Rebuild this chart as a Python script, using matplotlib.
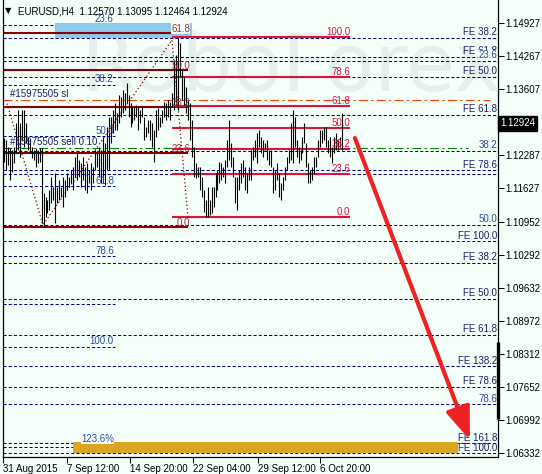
import matplotlib
matplotlib.use("Agg")
import matplotlib.pyplot as plt
from matplotlib.patches import Rectangle
from matplotlib.transforms import blended_transform_factory

plt.rcParams['font.family'] = ['Liberation Sans', 'DejaVu Sans']

# ---------------- data ----------------
symbol_title = "EURUSD,H4  1.12570 1.13095 1.12464 1.12924"
last_price = 1.12924

highs = [1.1263, 1.1259, 1.1245, 1.1243, 1.1239, 1.1245, 1.1293, 1.1319, 1.1293, 1.1319,
         1.1319, 1.1293, 1.1265, 1.1259, 1.1245, 1.1239, 1.1243, 1.1239, 1.1243, 1.1243,
         1.1153, 1.1145, 1.1139, 1.1159, 1.1185, 1.1165,
         1.1193, 1.1165, 1.1179, 1.1165, 1.1185, 1.1179, 1.1193, 1.1185, 1.1199, 1.1205,
         1.1225, 1.1233, 1.1219, 1.1213, 1.1225, 1.1205, 1.1213, 1.1199, 1.1213, 1.1205,
         1.1239, 1.1233, 1.1245, 1.1239, 1.1265, 1.1253, 1.1285, 1.1305, 1.1305, 1.1319,
         1.1333, 1.1313,
         1.1349, 1.1345, 1.1359, 1.1353, 1.1373, 1.1349, 1.1333, 1.1325, 1.1325, 1.1329,
         1.1325, 1.1319, 1.1325, 1.1305, 1.1285, 1.1299, 1.1299, 1.1293, 1.1279, 1.1319,
         1.1323, 1.1305, 1.1319, 1.1335, 1.1333, 1.1339, 1.1335, 1.1353,
         1.1419, 1.1429, 1.1463, 1.1453, 1.1399, 1.1385, 1.1365,
         1.1339, 1.1333, 1.1299, 1.1245, 1.1213, 1.1205, 1.1205, 1.1185, 1.1159, 1.1139,
         1.1165, 1.1139, 1.1165, 1.1165, 1.1193, 1.1199, 1.1215, 1.1213, 1.1205, 1.1219,
         1.1259, 1.1299, 1.1253, 1.1225, 1.1185, 1.1185, 1.1199, 1.1213, 1.1219, 1.1205,
         1.1193, 1.1205, 1.1239, 1.1245, 1.1259, 1.1273, 1.1279, 1.1265, 1.1259, 1.1253,
         1.1259, 1.1239, 1.1239, 1.1205, 1.1199, 1.1213, 1.1193, 1.1173, 1.1185, 1.1205,
         1.1225, 1.1239, 1.1293, 1.1319, 1.1305, 1.1259, 1.1245, 1.1239, 1.1265, 1.1293,
         1.1253, 1.1213, 1.1199, 1.1205, 1.1225, 1.1225, 1.1259, 1.1279, 1.1279, 1.1285,
         1.1285, 1.1259, 1.1265, 1.1245, 1.1265, 1.1273, 1.1259, 1.1265, 1.1313]

lows = [1.1215, 1.1199, 1.1209, 1.1179, 1.1195, 1.1213, 1.1233, 1.1239, 1.1225, 1.1259,
        1.1245, 1.1253, 1.1239, 1.1233, 1.1223, 1.1219, 1.1205, 1.1213, 1.1215, 1.1093,
        1.1085, 1.1105, 1.1113, 1.1119, 1.1133, 1.1139,
        1.1093, 1.1133, 1.1139, 1.1145, 1.1125, 1.1145, 1.1159, 1.1165, 1.1173, 1.1159,
        1.1185, 1.1179, 1.1185, 1.1165, 1.1179, 1.1159, 1.1153, 1.1173, 1.1159, 1.1173,
        1.1199, 1.1205, 1.1185, 1.1173, 1.1173, 1.1169, 1.1199, 1.1199, 1.1253, 1.1273,
        1.1279, 1.1279,
        1.1293, 1.1305, 1.1313, 1.1319, 1.1333, 1.1305, 1.1285, 1.1293, 1.1299, 1.1305,
        1.1279, 1.1293, 1.1305, 1.1259, 1.1265, 1.1273, 1.1259, 1.1245, 1.1215, 1.1265,
        1.1279, 1.1285, 1.1293, 1.1305, 1.1299, 1.1305, 1.1299, 1.1325,
        1.1319, 1.1329, 1.1319, 1.1385, 1.1339, 1.1329, 1.1313,
        1.1299, 1.1259, 1.1225, 1.1185, 1.1183, 1.1185, 1.1159, 1.1145, 1.1115, 1.1105,
        1.1105, 1.1109, 1.1113, 1.1125, 1.1145, 1.1159, 1.1173, 1.1179, 1.1185, 1.1173,
        1.1205, 1.1219, 1.1205, 1.1185, 1.1133, 1.1119, 1.1159, 1.1173, 1.1185, 1.1159,
        1.1153, 1.1179, 1.1179, 1.1219, 1.1225, 1.1213, 1.1245, 1.1233, 1.1225, 1.1239,
        1.1219, 1.1209, 1.1205, 1.1153, 1.1159, 1.1179, 1.1145, 1.1139, 1.1159, 1.1179,
        1.1199, 1.1213, 1.1219, 1.1213, 1.1245, 1.1225, 1.1213, 1.1219, 1.1233, 1.1253,
        1.1205, 1.1173, 1.1173, 1.1179, 1.1193, 1.1205, 1.1225, 1.1245, 1.1253, 1.1259,
        1.1245, 1.1233, 1.1225, 1.1213, 1.1233, 1.1239, 1.1239, 1.1245, 1.1239]

price_ticks = [1.14927, 1.14267, 1.13607, 1.12287, 1.11627, 1.10952, 1.10292,
               1.09632, 1.08972, 1.08312, 1.07652, 1.06992, 1.06332]
price_tick_labels = ["1.14927", "1.14267", "1.13607", "1.12287", "1.11627", "1.10952", "1.10292",
                     "1.09632", "1.08972", "1.08312", "1.07652", "1.06992", "1.06332"]

date_tick_pos = [-0.35, 31.7, 63.7, 95.6, 128.5, 159.8]
date_tick_labels = ["31 Aug 2015", "7 Sep 12:00", "14 Sep 20:00",
                    "22 Sep 04:00", "29 Sep 12:00", "6 Oct 20:00"]

# Fibonacci retracement (dark red, left)
fibA_levels = [1.1473, 1.1399, 1.1325, 1.1233, 1.1085]
fibA_labels = ["61.8", "50.0", "38.2", "23.6", "0.0"]
fibA_span = (-0.5, 93.1)

# Fibonacci retracement (crimson, right)
fibB_levels = [1.1465, 1.1385, 1.1327, 1.1283, 1.1241, 1.1191, 1.1105]
fibB_labels = ["100.0", "78.6", "61.8", "50.0", "38.2", "23.6", "0.0"]
fibB_span = (85.0, 175.0)

# short dashed expansion levels (left)
exp_levels = [1.1489, 1.1369, 1.1267, 1.1167, 1.1027, 1.0931, 1.0845]
exp_labels = ["23.6", "38.2", "50.0", "61.8", "78.6", "", "100.0"]
exp_end = 56.1
exp1236_level = 1.0645
exp1236_end = 34.9

# full-width dashed levels (right labels)
full_levels = [1.1463, 1.1425, 1.1417, 1.1385, 1.1309, 1.1237, 1.1199, 1.1191, 1.1089,
               1.1057, 1.1013, 1.0941, 1.0869, 1.0807, 1.0765, 1.0731, 1.0653, 1.0633]
full_labels = ["FE 38.2", "FE 61.8", "23.6", "FE 50.0", "FE 61.8", "38.2", "FE 78.6", "",
               "50.0", "FE 100.0", "FE 38.2", "FE 50.0", "FE 61.8", "FE 138.2", "FE 78.6",
               "78.6", "FE 161.8", "FE 100.0"]

sl_level = 1.1339
order_level = 1.1243
zone_top, zone_bottom = 1.0655, 1.0633
zone_x = (34.9, 229.6)
blue_box = (25.8, 95.1, 1.1464, 1.1494)
fib_base_x = [1.0, 19.7, 85.0, 93.1]
fib_base_y = [1.1339, 1.1089, 1.1459, 1.1103]
arrow_start = (177.5, 1.1263)
arrow_end = (235.7, 1.0659)

# ---------------- drawing ----------------
BG = '#F5FFFA'
NAVY = '#000080'
DARKRED = '#8B0000'
CRIMSON = '#DC143C'

fig = plt.figure(figsize=(5.42, 4.74), dpi=100, facecolor=BG)
ax = fig.add_axes([3 / 542, 17 / 474, 495 / 542, 457 / 474])
ax.set_facecolor(BG)
ax.set_xlim(-0.506, 249.9)
ax.set_ylim(1.0625, 1.1539)

ytr = blended_transform_factory(ax.transAxes, ax.transData)

# watermark
ax.text(145, 1.1401, "RoboForex", fontsize=58, color='#E5EFEE', ha='center', va='center',
        family='DejaVu Sans', zorder=0)

dash = (3, 2)
for lv, lb in zip(full_levels, full_labels):
    ax.axhline(lv, color=NAVY, lw=0.75, dashes=dash, zorder=1)
for lv, lb in zip(full_levels, full_labels):
    if lb:
        col = '#1E1E6E' if lb.startswith('FE') else '#2B4BA0'
        bb = dict(facecolor=BG, edgecolor='none', pad=0.2) if lb == "23.6" else None
        ax.text(0.998, lv + 0.0011, lb, transform=ytr, ha='right', va='center',
                fontsize=7, color=col, zorder=4, bbox=bb)

for lv, lb in zip(exp_levels, exp_labels):
    ax.plot([-0.5, exp_end], [lv, lv], color=NAVY, lw=0.75, dashes=dash, zorder=1)
    if lb:
        ax.text(exp_end - 0.5, lv + 0.0011, lb, ha='right', va='center', fontsize=7,
                color='#2B4BA0', zorder=4)
ax.plot([-0.5, exp1236_end], [exp1236_level, exp1236_level], color=NAVY, lw=0.75,
        dashes=dash, zorder=1)

# gold zone
ax.add_patch(Rectangle((zone_x[0], zone_bottom), zone_x[1] - zone_x[0], zone_top - zone_bottom,
                       facecolor='#DAA520', edgecolor='none', zorder=1.5))
ax.text(exp_end - 0.5, 1.0661, "123.6%", ha='right', va='center', fontsize=7, color='#2B4BA0',
        zorder=4, bbox=dict(facecolor=BG, edgecolor='none', pad=0.3))

# blue box
ax.add_patch(Rectangle((blue_box[0], blue_box[2]), blue_box[1] - blue_box[0],
                       blue_box[3] - blue_box[2], facecolor='#8CCBEB', edgecolor='none',
                       zorder=1.6))

# order lines
ax.plot([-0.5, 246], [sl_level, sl_level], color='#FF4500', lw=0.8, dashes=(8, 3, 2, 3), zorder=2)
ax.plot([-0.5, 234.7], [order_level, order_level], color='#008000', lw=0.8,
        dashes=(8, 3, 2, 3), zorder=2)
ax.text(3, 1.1351, "#15975505 sl", fontsize=7, color='#1E1E6E', ha='left', va='center', zorder=4)
ax.text(3, 1.1255, "#15975505 sell 0.10", fontsize=7, color='#1E1E6E', ha='left', va='center',
        zorder=4)

# fib lines
for lv in fibA_levels:
    ax.plot(fibA_span, [lv, lv], color=DARKRED, lw=1.5, solid_capstyle='butt', zorder=2)
for lv in fibB_levels:
    ax.plot(fibB_span, [lv, lv], color=CRIMSON, lw=1.5, solid_capstyle='butt', zorder=2)
ax.plot(fib_base_x, fib_base_y, color=DARKRED, lw=0.9, ls=(0, (1, 2)), zorder=2)

# bars
xs = list(range(len(highs)))
ax.vlines(xs, lows, highs, color='black', lw=0.8, zorder=3)

# fib labels
for lv, lb in zip(fibA_levels, fibA_labels):
    bb = dict(facecolor='#F7FBFB', edgecolor='none', pad=0.2) if lb == "61.8" else None
    ax.text(fibA_span[1] + 1, lv + 0.0009, lb, ha='right', va='center', fontsize=7,
            color='#A0303A', zorder=4, bbox=bb)
for lv, lb in zip(fibB_levels, fibB_labels):
    ax.text(fibB_span[1], lv + 0.001, lb, ha='right', va='center', fontsize=7,
            color=CRIMSON, zorder=4)

# arrow
ax.annotate('', xy=arrow_end, xytext=arrow_start,
            arrowprops=dict(arrowstyle='-|>,head_length=2.0,head_width=0.75', mutation_scale=10,
                            lw=3, color='#EE2222', shrinkA=0, shrinkB=0), zorder=5)

# right axis black marker
ax.plot([1.0, 1.0], [1.0702, 1.0856], transform=ytr, color='black', lw=2.4,
        solid_capstyle='butt', clip_on=False, zorder=6)

# axes styling
ax.spines['top'].set_visible(False)
for s in ['left', 'right', 'bottom']:
    ax.spines[s].set_color('black')
    ax.spines[s].set_linewidth(0.9)
ax.yaxis.tick_right()
ax.set_yticks(price_ticks)
ax.set_yticklabels(price_tick_labels)
ax.tick_params(axis='y', direction='out', length=4, width=0.75, pad=1.5, labelsize=7)
ax.set_xticks(date_tick_pos)
ax.set_xticklabels(date_tick_labels)
ax.tick_params(axis='x', direction='out', length=4, width=0.75, pad=1.0, labelsize=7)
for lbl in ax.get_xticklabels():
    lbl.set_ha('left')

# current price box
ax.text(1.004, last_price, f"{last_price:.5f}", transform=ytr, ha='left', va='center',
        fontsize=7, color='white', zorder=7, clip_on=False,
        bbox=dict(facecolor='black', edgecolor='black', pad=1.6))

# title
fig.text(5 / 542, 1 - 11 / 474, "\u25bc", fontsize=6, va='center', ha='left',
         family=['DejaVu Sans'])
fig.text(18 / 542, 1 - 11 / 474, symbol_title, fontsize=7, va='center', ha='left')

fig.savefig("out.png", dpi=100, facecolor=BG)
